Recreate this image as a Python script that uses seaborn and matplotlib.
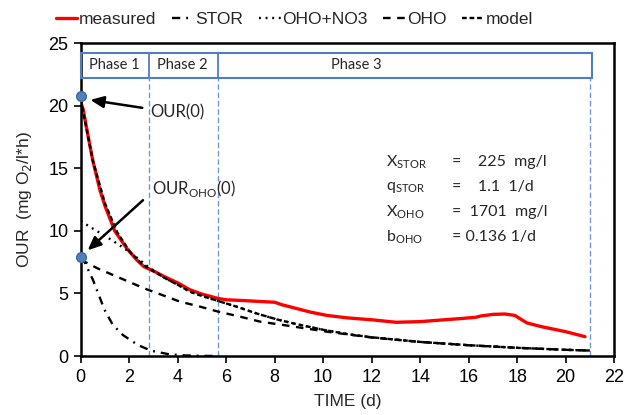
import numpy as np
import pandas as pd
import seaborn as sns
import matplotlib
matplotlib.use("Agg")
import matplotlib.pyplot as plt
from matplotlib.patches import Rectangle

# ---------------- data ----------------
t_meas = [0, 0.1, 0.3, 0.5, 0.8, 1.0, 1.4, 1.9, 2.3, 2.6, 3.0, 3.5, 4.0, 4.5, 5.0,
          5.67, 6.0, 6.85, 7.5, 8.0, 8.3, 8.9, 9.5, 10.15, 11.0, 12.0, 13.0, 14.0,
          15.0, 15.7, 16.3, 16.5, 17.0, 17.5, 17.9, 18.4, 19.0, 20.0, 20.8]
our_meas = [20.3, 19.7, 17.6, 15.6, 13.2, 12.0, 10.0, 8.6, 7.7, 7.15, 6.8, 6.3, 5.85,
            5.3, 4.95, 4.6, 4.5, 4.42, 4.35, 4.3, 4.1, 3.8, 3.5, 3.25, 3.05, 2.9, 2.7,
            2.75, 2.9, 3.0, 3.1, 3.2, 3.33, 3.36, 3.25, 2.65, 2.35, 1.95, 1.55]

t_stor = [0, 0.15, 0.5, 0.98, 1.32, 1.74, 2.36, 2.9, 3.6, 4.3, 5.0, 5.6]
our_stor = [7.9, 7.55, 6.1, 3.7, 2.5, 1.68, 0.88, 0.43, 0.16, 0.05, 0.02, 0.0]

t_ohono3 = [0, 0.15, 0.7, 1.25, 1.8, 2.36, 2.8, 3.5, 4.0, 4.5, 5.0, 5.67, 6.5, 7.26,
            8.09, 8.9, 10.0, 11.0, 12.0, 14.0, 16.0, 18.0, 20.0, 21.0]
our_ohono3 = [10.8, 10.6, 9.95, 9.3, 8.6, 7.8, 7.1, 6.2, 5.7, 5.15, 4.8, 4.4, 3.9, 3.4,
              2.93, 2.55, 2.1, 1.75, 1.5, 1.13, 0.87, 0.66, 0.5, 0.44]

t_oho = [0, 0.15, 0.7, 2.63, 4.09, 4.92, 5.67, 6.57, 7.4, 8.36, 10.15, 12.0, 14.0,
         16.0, 18.0, 20.0, 21.0]
our_oho = [7.7, 7.55, 7.0, 5.4, 4.35, 3.95, 3.55, 3.15, 2.75, 2.48, 1.95, 1.48, 1.13,
           0.86, 0.66, 0.5, 0.44]

t_model = [0, 0.5, 1.0, 1.5, 2.0, 2.5, 2.8, 3.5, 4.0, 4.5, 5.0, 5.67, 6.5, 7.26,
           8.09, 8.9, 10.0, 11.0, 12.0, 14.0, 16.0, 18.0, 20.0, 21.0]
our_model = [20.5, 15.6, 12.2, 9.9, 8.4, 7.4, 7.0, 6.2, 5.7, 5.15, 4.8, 4.4, 3.9, 3.4,
             2.93, 2.55, 2.1, 1.75, 1.5, 1.13, 0.87, 0.66, 0.5, 0.44]

phase_edges = [0, 2.8, 5.67, 21.0]
phase_labels = ["Phase 1", "Phase 2", "Phase 3"]
phase_label_x = [1.4, 4.2, 11.36]

init_t = [0, 0]
init_our = [20.75, 7.9]

params = [r"X$_\mathregular{STOR}$", r"q$_\mathregular{STOR}$",
          r"X$_\mathregular{OHO}$", r"b$_\mathregular{OHO}$"]
param_vals = ["=    225  mg/l", "=    1.1  1/d", "=  1701  mg/l", "= 0.136 1/d"]

# ---------------- style ----------------
sns.set_style("white")
plt.rcParams["font.family"] = ["Liberation Sans", "DejaVu Sans"]
ANN = ["Lato", "DejaVu Sans"]

fig = plt.figure(figsize=(6.26, 4.15), dpi=100)
ax = fig.add_axes([0.129, 0.142, 0.852, 0.754])

def draw(t, y, color, lw, ls, label):
    sns.lineplot(x=t, y=y, ax=ax, color=color, linewidth=lw, label=label,
                 sort=False, estimator=None)
    ln = ax.lines[-1]
    ln.set_linestyle(ls)
    return ln

draw(t_meas, our_meas, "#ff0000", 2.4, "-", "measured")
draw(t_stor, our_stor, "black", 1.7, (0, (3.5, 2.5, 0.8, 2.5)), "STOR")
draw(t_ohono3, our_ohono3, "black", 1.7, (0, (0.8, 2.0)), "OHO+NO3")
draw(t_oho, our_oho, "black", 1.7, (0, (3.2, 2.8)), "OHO")
draw(t_model, our_model, "black", 1.7, (0, (2.0, 1.2)), "model")

# phase box and separators
y0, y1 = 22.25, 24.25
box_col = "#4f7fbf"
ax.add_patch(Rectangle((phase_edges[0], y0), phase_edges[-1] - phase_edges[0] + 0.1,
                       y1 - y0, fill=False, edgecolor=box_col, lw=1.5, zorder=5,
                       clip_on=False))
for e in phase_edges[1:3]:
    ax.plot([e, e], [y0, y1], color=box_col, lw=1.3, zorder=5)
for e in phase_edges[1:]:
    ax.plot([e, e], [0, y0], color="#6f9ad6", lw=1.0, ls=(0, (4, 2)), zorder=1)
for lab, xl in zip(phase_labels, phase_label_x):
    ax.text(xl, (y0 + y1) / 2, lab, ha="center", va="center", fontsize=10.5,
            family=ANN)

# initial points and arrows
ax.plot(init_t, init_our, "o", color="#4f81bd", markeredgecolor="#3a6a9e",
        markersize=7, clip_on=False, zorder=10)
ax.annotate("", xy=(0.28, 20.5), xytext=(2.65, 19.8),
            arrowprops=dict(arrowstyle="-|>,head_length=0.8,head_width=0.35",
                            color="black", lw=1.8))
ax.text(2.85, 19.5, "OUR(0)", fontsize=12, family=ANN, va="center")
ax.annotate("", xy=(0.2, 8.3), xytext=(2.65, 12.6),
            arrowprops=dict(arrowstyle="-|>,head_length=0.8,head_width=0.35",
                            color="black", lw=1.8))
ax.text(2.95, 13.4, r"OUR$_\mathregular{OHO}$(0)", fontsize=12, family=ANN,
        va="center")

# parameters
for i, (p, v) in enumerate(zip(params, param_vals)):
    yy = 15.5 - i * 2.0
    ax.text(12.6, yy, p, fontsize=11.5, family=ANN, va="center")
    ax.text(15.3, yy, v, fontsize=11.5, family=ANN, va="center")

# axes
ax.set_xlim(0, 22)
ax.set_ylim(0, 25)
ax.set_xticks(range(0, 23, 2))
ax.set_yticks(range(0, 26, 5))
ax.tick_params(axis="both", direction="out", length=5, width=1.2, labelsize=13,
               bottom=True, left=True, colors="black", pad=4)
for s in ax.spines.values():
    s.set_color("black")
    s.set_linewidth(1.8)
ax.set_xlabel("TIME (d)", fontsize=12.5, labelpad=6)
ax.set_ylabel(r"OUR  (mg O$_2$/l*h)", fontsize=12.5, labelpad=10)

h, l = ax.get_legend_handles_labels()
ax.get_legend().remove()
fig.legend(h, l, loc="center", bbox_to_anchor=(0.47, 0.954), ncol=5,
           frameon=False, fontsize=12.5, handlelength=1.25, handletextpad=0.1,
           columnspacing=0.9, borderaxespad=0)

fig.savefig("out.png", dpi=100)
